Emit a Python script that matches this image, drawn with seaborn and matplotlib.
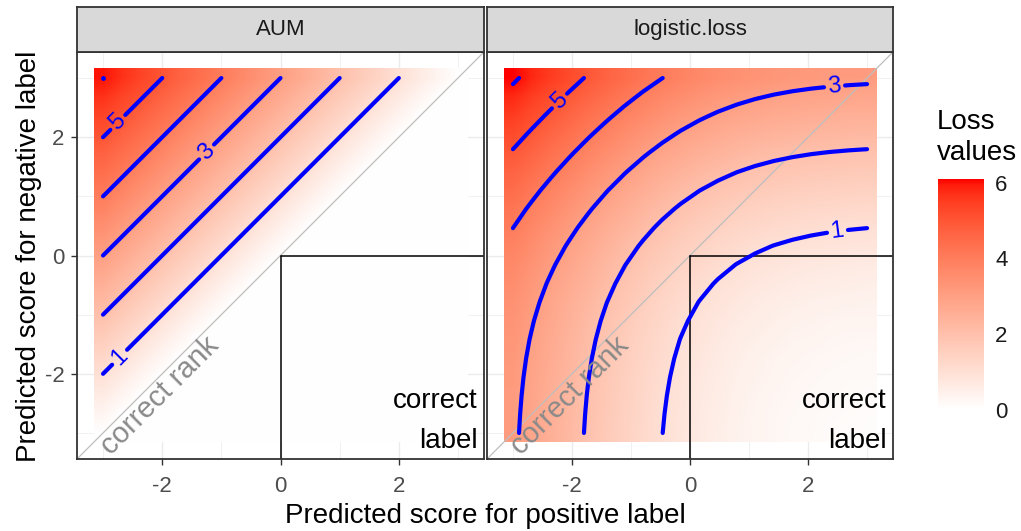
import numpy as np
import matplotlib
matplotlib.use("Agg")
import matplotlib.pyplot as plt
from matplotlib.colors import ListedColormap, Normalize
import seaborn as sns

# ---- data -------------------------------------------------------------
# predicted scores evaluated on both axes (positive label on x, negative on y)
score_grid = np.linspace(-3, 3, 20)
panel_names = ["AUM", "logistic.loss"]
contour_levels = [1, 2, 3, 4, 5, 6]
labelled_levels = [1, 3, 5]
colorbar_ticks = [0, 2, 4, 6]
axis_ticks = [-2, 0, 2]
minor_ticks = [-3, -1, 1, 3]

pos, neg = np.meshgrid(score_grid, score_grid)
loss_values = {
    "AUM": np.maximum(0.0, neg - pos),
    "logistic.loss": np.log1p(np.exp(-pos)) + np.log1p(np.exp(neg)),
}
loss_max = max(v.max() for v in loss_values.values())

# where the contour labels sit along their curves
label_spots = {
    "AUM": [(-2.72, -1.72), (-1.25, 1.75), (-2.75, 2.25)],
    "logistic.loss": [(2.5, 0.4), (2.45, 2.85), (-2.2, 2.6)],
}

# ---- white -> red gradient interpolated in CIE Lab ---------------------
_M = np.array([[0.4124, 0.3576, 0.1805],
               [0.2126, 0.7152, 0.0722],
               [0.0193, 0.1192, 0.9505]])
_WHITE = np.array([0.95047, 1.0, 1.08883])


def srgb_to_lab(rgb):
    rgb = np.asarray(rgb, float)
    lin = np.where(rgb <= 0.04045, rgb / 12.92, ((rgb + 0.055) / 1.055) ** 2.4)
    xyz = _M @ lin / _WHITE
    d = 6 / 29
    f = np.where(xyz > d ** 3, np.cbrt(xyz), xyz / (3 * d * d) + 4 / 29)
    return np.array([116 * f[1] - 16, 500 * (f[0] - f[1]), 200 * (f[1] - f[2])])


def lab_to_srgb(lab):
    L, a, b = lab
    fy = (L + 16) / 116
    f = np.array([fy + a / 500, fy, fy - b / 200])
    d = 6 / 29
    xyz = np.where(f > d, f ** 3, 3 * d * d * (f - 4 / 29)) * _WHITE
    lin = np.linalg.solve(_M, xyz)
    lin = np.clip(lin, 0, 1)
    rgb = np.where(lin <= 0.0031308, 12.92 * lin, 1.055 * lin ** (1 / 2.4) - 0.055)
    return np.clip(rgb, 0, 1)


low, high = srgb_to_lab([1, 1, 1]), srgb_to_lab([1, 0, 0])
loss_cmap = ListedColormap(
    [lab_to_srgb(low + t * (high - low)) for t in np.linspace(0, 1, 256)])
norm = Normalize(vmin=0, vmax=loss_max)

# ---- style --------------------------------------------------------------
sns.set_theme(style="white")
plt.rcParams["font.family"] = ["Liberation Sans", "DejaVu Sans"]
plt.rcParams["axes.unicode_minus"] = False

W, H = 1021, 531
fig = plt.figure(figsize=(W / 100, H / 100), dpi=100)
fig.patch.set_facecolor("white")


def box(l, t, r, b):
    return [l / W, 1 - b / H, (r - l) / W, (b - t) / H]


panel_cols = [(77, 484), (487, 893)]
strip_top, panel_top, panel_bottom = 7, 52, 459
lim = 3.44
edge = "#333333"
plain_levels = [lv for lv in contour_levels if lv not in labelled_levels]
half_step = (score_grid[1] - score_grid[0]) / 2
raster_extent = [score_grid[0] - half_step, score_grid[-1] + half_step,
                 score_grid[0] - half_step, score_grid[-1] + half_step]

img = None
for i, (name, (left, right)) in enumerate(zip(panel_names, panel_cols)):
    z = loss_values[name]
    ax = fig.add_axes(box(left, panel_top, right, panel_bottom))
    ax.set_facecolor("white")
    ax.set_xticks(axis_ticks)
    ax.set_yticks(axis_ticks)
    ax.set_xticks(minor_ticks, minor=True)
    ax.set_yticks(minor_ticks, minor=True)
    ax.set_axisbelow(True)
    ax.grid(which="major", color="#EBEBEB", lw=1.0)
    ax.grid(which="minor", color="#EBEBEB", lw=0.5)

    # smoothly interpolated loss raster
    img = ax.imshow(z, origin="lower", extent=raster_extent, cmap=loss_cmap,
                    norm=norm, interpolation="bilinear",
                    interpolation_stage="rgba", aspect="auto", zorder=1)

    # y = x reference line
    sns.lineplot(x=[-lim, lim], y=[-lim, lim], ax=ax, color="#BEBEBE",
                 lw=0.9, zorder=2)

    # correct-label quadrant outline
    ax.plot([0, 0], [0, -lim], color="black", lw=1.1, zorder=2.5)
    ax.plot([0, lim], [0, 0], color="black", lw=1.1, zorder=2.5)

    cs_plain = ax.contour(score_grid, score_grid, z, levels=plain_levels,
                          colors="blue", linewidths=3, zorder=3)
    cs_plain.set_capstyle("round")
    cs_lab = ax.contour(score_grid, score_grid, z, levels=labelled_levels,
                        colors="blue", linewidths=3, zorder=3)
    cs_lab.set_capstyle("round")
    # the top level can collapse to a single grid point
    top_pts = np.isclose(z, contour_levels[-1])
    if top_pts.any():
        ax.scatter(pos[top_pts], neg[top_pts], s=12, color="blue", zorder=3,
                   linewidths=0)

    ax.set_xlim(-lim, lim)
    ax.set_ylim(-lim, lim)
    ax.clabel(cs_lab, manual=label_spots[name], inline=True,
              inline_spacing=4, fontsize=17, colors="blue", fmt="%d")

    ax.text(-2.2, -2.2, "correct rank", rotation=45, rotation_mode="anchor",
            ha="center", va="top", color="#8A8A8A", fontsize=21, zorder=4)
    ax.text(3.33, -3.36, "correct\nlabel", ha="right", va="bottom",
            multialignment="right", fontsize=20, linespacing=1.7,
            color="black", zorder=4)

    for s in ax.spines.values():
        s.set_color(edge)
        s.set_linewidth(1.3)
    ax.tick_params(which="major", length=4, width=1, color=edge,
                   labelsize=16, labelcolor="#4D4D4D", pad=5,
                   bottom=True, left=(i == 0), labelleft=(i == 0))
    ax.tick_params(axis="x", which="major", pad=8)
    ax.tick_params(which="minor", length=0)
    ax.set_xlabel("")
    ax.set_ylabel("")

    sax = fig.add_axes(box(left, strip_top, right, panel_top))
    sax.set_facecolor("#D9D9D9")
    sax.set_xticks([])
    sax.set_yticks([])
    for s in sax.spines.values():
        s.set_color(edge)
        s.set_linewidth(1.3)
    sax.text(0.5, 0.5, name, ha="center", va="center", fontsize=16,
             color="#1A1A1A", transform=sax.transAxes)

fig.text(485 / W, 1 - 516 / H, "Predicted score for positive label",
         ha="center", va="center", fontsize=20, color="black")
fig.text(29 / W, 1 - 256 / H, "Predicted score for negative label",
         ha="center", va="center", rotation=90, fontsize=20, color="black")

# ---- colour bar ---------------------------------------------------------
cax = fig.add_axes(box(938, 179, 984, 410))
cb = fig.colorbar(img, cax=cax, ticks=colorbar_ticks)
cb.outline.set_visible(False)
cb.minorticks_off()
cax.tick_params(which="major", direction="in", length=5, width=0.9,
                color="white", left=True, right=True, labelleft=False,
                labelright=True, labelsize=16, labelcolor="#1A1A1A", pad=8)
fig.text(937 / W, 1 - 166 / H, "Loss\nvalues", ha="left", va="bottom",
         fontsize=20, linespacing=1.25, color="black")

fig.savefig("out.png", dpi=100)
